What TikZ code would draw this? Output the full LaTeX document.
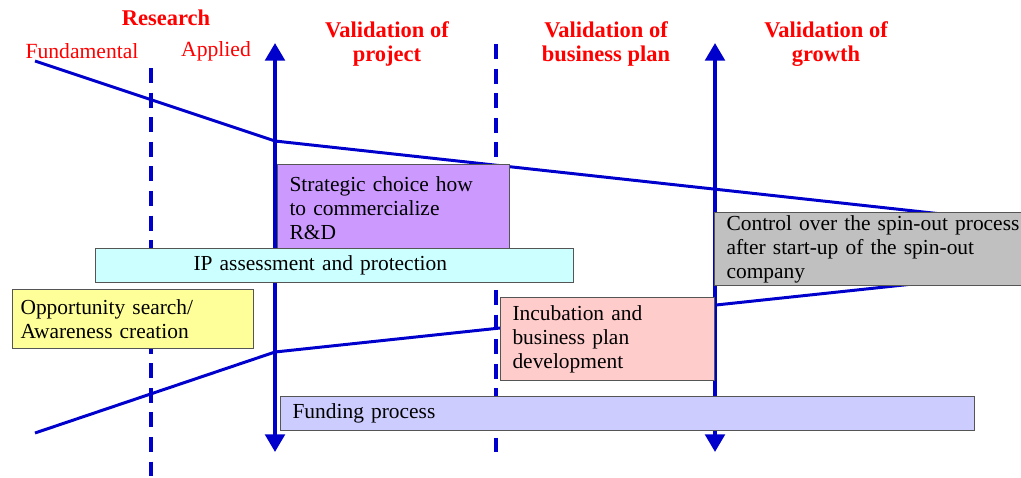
\documentclass[tikz,border=0pt]{standalone}
\usepackage{fontspec}
\setmainfont{Liberation Serif}
\usetikzlibrary{positioning, arrows.meta}
\definecolor{lineblue}{HTML}{0000CC}
\definecolor{labelred}{HTML}{FF0000}
\definecolor{boxgray}{HTML}{555555}
\definecolor{purplefill}{HTML}{CC99FF}
\definecolor{cyanfill}{HTML}{CCFFFF}
\definecolor{yellowfill}{HTML}{FFFF99}
\definecolor{pinkfill}{HTML}{FFCCCC}
\definecolor{greyfill}{HTML}{C0C0C0}
\definecolor{lilacfill}{HTML}{CCCCFF}

\begin{document}
\begin{tikzpicture}
    [
        x=0.02cm, y=-0.02cm,
        phase_label/.style={text=labelred, font=\fontsize{12.8}{13.2}\selectfont\bfseries, align=center},
        sub_label/.style={text=labelred, font=\fontsize{12.3}{13.2}\selectfont},
        box/.style={draw=boxgray, line width=0.6pt, anchor=north west, inner xsep=0.24cm, inner ysep=0pt, align=left, font=\fontsize{12.2}{13.6}\selectfont},
        phase_arrow/.style={lineblue, line width=2.3pt, {Triangle[width=11pt,length=10pt]}-{Triangle[width=11pt,length=10pt]}},
        gate/.style={lineblue, line width=2.3pt, dash pattern=on 8.5pt off 5.5pt},
        funnel/.style={lineblue, line width=1.7pt},
    ]

  \useasboundingbox (0,0) rectangle (1021,477);
  \clip (0,0) rectangle (1021,477);

  % phase labels
  \node[phase_label] (research) at (166,18) {Research};
  \node[sub_label] (fundamental) at (82,51) {Fundamental};
  \node[sub_label] (applied) at (216,51) {Applied};
  \node[phase_label] (val_project) at (387,44) {Validation of\\project};
  \node[phase_label] (val_plan) at (606,44) {Validation of\\business plan};
  \node[phase_label] (val_growth) at (826,44) {Validation of\\growth};

  % gates and milestones
  \coordinate (gate1_top) at (151,68);
  \coordinate (gate1_bot) at (151,477);
  \coordinate (gate2_top) at (496,44);
  \coordinate (gate2_bot) at (496,455);
  \coordinate (mile1_top) at (275,43);
  \coordinate (mile1_bot) at (275,452);
  \coordinate (mile2_top) at (715,43);
  \coordinate (mile2_bot) at (715,452);

  \draw[gate] (gate1_top) -- (gate1_bot);
  \draw[gate] (gate2_top) -- (gate2_bot);
  \draw[phase_arrow] (mile1_top) -- (mile1_bot);
  \draw[phase_arrow] (mile2_top) -- (mile2_bot);

  % funnel
  \coordinate (up_start) at (35,61);
  \coordinate (up_bend) at (275,141);
  \coordinate (up_end) at (960,216);
  \coordinate (low_start) at (35,433);
  \coordinate (low_bend) at (275,352);
  \coordinate (low_end) at (960,279);

  \draw[funnel] (up_start) -- (up_bend) -- (up_end);
  \draw[funnel] (low_start) -- (low_bend) -- (low_end);

  % activities
  \node[box, fill=purplefill, text width=4.16cm, minimum height=1.76cm] (strategic) at (277,164)
    {Strategic choice how\\to commercialize\\R\&D};
  \node[box, fill=cyanfill, text width=9.08cm, minimum height=0.68cm] (ip) at (95,248)
    {\hspace*{1.72cm}IP assessment and protection};
  \node[box, fill=yellowfill, inner xsep=0.16cm, text width=4.5cm, minimum height=1.18cm] (opportunity) at (12,289)
    {Opportunity search/\\Awareness creation};
  \node[box, fill=pinkfill, text width=3.8cm, minimum height=1.66cm] (incubation) at (500,297)
    {Incubation and\\business plan\\development};
  \node[box, fill=greyfill, text width=7cm, minimum height=1.46cm] (control) at (714,212)
    {Control over the spin-out process\\after start-up of the spin-out\\company};
  \node[box, fill=lilacfill, text width=13.4cm, minimum height=0.68cm] (funding) at (280,396)
    {Funding process};
\end{tikzpicture}
\end{document}
